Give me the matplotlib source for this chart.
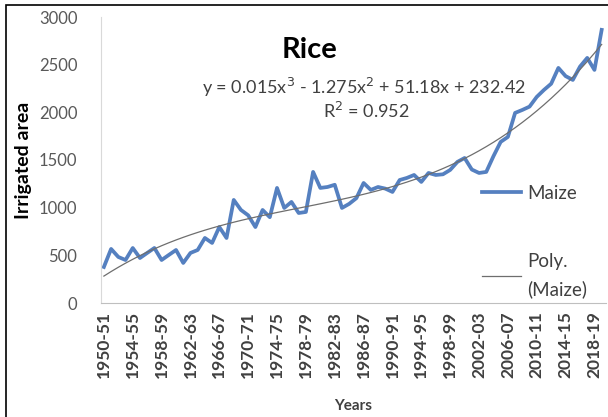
import numpy as np
import matplotlib
matplotlib.use("Agg")
import matplotlib.pyplot as plt
from matplotlib.patches import Rectangle

plt.rcParams['font.family'] = ['Lato', 'DejaVu Sans']

# irrigated area series, 1950-51 .. 2019-20
start_years = list(range(1950, 2020))
seasons = ["%d-%02d" % (y, (y + 1) % 100) for y in start_years]
maize = [378, 567, 483, 451, 577, 472, 525, 577, 451, 504,
         556, 420, 525, 556, 682, 630, 797, 682, 1081, 976,
         920, 797, 976, 900, 1207, 997, 1060, 944, 955, 1375,
         1207, 1217, 1240, 997, 1040, 1100, 1259, 1186, 1217, 1200,
         1165, 1290, 1312, 1343, 1270, 1364, 1343, 1350, 1396, 1480,
         1521, 1400, 1364, 1375, 1540, 1690, 1742, 1994, 2025, 2060,
         2162, 2235, 2300, 2466, 2380, 2340, 2480, 2571, 2445, 2865]

# cubic trend as reported on the chart
coef = [0.015, -1.275, 51.18, 232.42]
r2 = 0.952

tick_labels = seasons[::4]

x = np.arange(1, len(maize) + 1)
trend = np.polyval(coef, x)

fig = plt.figure(figsize=(6.08, 4.17), dpi=100)
ax = fig.add_axes([101 / 608, (417 - 303) / 417, 505 / 608, 286 / 417])

ax.plot(x, maize, color='#5580C0', lw=2.7, label='Maize', solid_joinstyle='round')
ax.plot(x, trend, color='#6E6E6E', lw=0.9, label='Poly.\n(Maize)')

ax.set_ylim(0, 3000)
ax.set_xlim(0.6, 70.6)
ax.set_yticks(range(0, 3001, 500))
ax.set_xticks(x[::4])
ax.set_xticklabels(tick_labels, rotation=90, fontsize=12.5, fontweight='bold', color='#404040')
ax.tick_params(axis='y', labelsize=12, labelcolor='#595959', length=0, pad=17)
ax.tick_params(axis='x', length=0, pad=6)

for s in ['top', 'right']:
    ax.spines[s].set_visible(False)
ax.spines['left'].set_color('#D9D9D9')
ax.spines['bottom'].set_color('#BFBFBF')

ax.set_ylabel('Irrigated area', fontsize=14, fontweight='bold', labelpad=5)
ax.set_xlabel('Years', fontsize=11, fontweight='bold', color='#404040', labelpad=15)

ax.text(0.413, 0.885, 'Rice', transform=ax.transAxes, fontsize=21, fontweight='bold',
        ha='center', va='center')
ax.text(0.52, 0.755, r'y = 0.015x$^3$ - 1.275x$^2$ + 51.18x + 232.42',
        transform=ax.transAxes, fontsize=13, ha='center', va='center', color='#404040')
ax.text(0.526, 0.671, 'R$^2$ = %.3f' % r2, transform=ax.transAxes, fontsize=13,
        ha='center', va='center', color='#404040')

leg = ax.legend(loc='upper left', bbox_to_anchor=(0.754, 0.413), frameon=False,
                fontsize=13.5, handlelength=2.1, handletextpad=0.3, labelspacing=2.7,
                borderpad=0, borderaxespad=0)
for t in leg.get_texts():
    t.set_color('#404040')
    t.set_linespacing(1.75)

# outer frame
fig.patches.append(Rectangle((6 / 608, -0.1), 1.2, (417 - 5) / 417 + 0.1,
                             transform=fig.transFigure, fill=False,
                             edgecolor='black', lw=1.2))

fig.savefig('out.png', dpi=100)
